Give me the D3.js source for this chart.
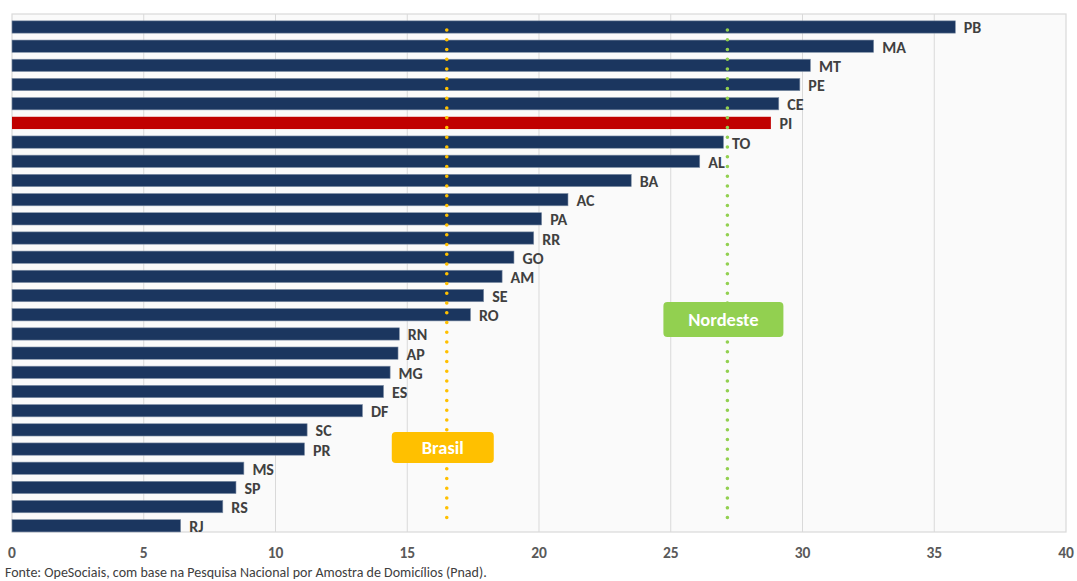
<!DOCTYPE html>
<html><head><meta charset="utf-8">
<script src="https://cdn.jsdelivr.net/npm/d3@7"></script>
<style>body{margin:0;background:#fff}svg{display:block}</style>
</head><body>
<svg id="c" width="1077" height="581"></svg>
<script>
const states = ["PB","MA","MT","PE","CE","PI","TO","AL","BA","AC","PA","RR","GO","AM","SE","RO","RN","AP","MG","ES","DF","SC","PR","MS","SP","RS","RJ"];
const values = [35.8,32.7,30.3,29.9,29.1,28.8,27.0,26.1,23.5,21.1,20.1,19.8,19.05,18.6,17.9,17.4,14.7,14.65,14.35,14.1,13.3,11.2,11.1,8.8,8.5,8.0,6.4];
const highlight = "PI";
const xTicks = [0,5,10,15,20,25,30,35,40];
const refNames = ["Brasil","Nordeste"];
const refValues = [16.5,27.15];
const refColors = ["#FFC000","#92D050"];
const source = "Fonte: OpeSociais, com base na Pesquisa Nacional por Amostra de Domicílios (Pnad).";

const svg = d3.select("#c");
const L=12, R=1066, T=14, B=532;
const x = d3.scaleLinear().domain([0,40]).range([L,R]);
const y = d3.scaleBand().domain(states).range([17.4,535.4]).paddingInner(0.36).paddingOuter(0.18);

svg.append("rect").attr("x",L).attr("y",T).attr("width",R-L).attr("height",B-T)
  .attr("fill","#fafafa").attr("stroke","#d9d9d9").attr("stroke-width",1.2);

svg.append("g").selectAll("line").data(xTicks.slice(1,-1)).join("line")
  .attr("x1",d=>x(d)).attr("x2",d=>x(d)).attr("y1",T).attr("y2",B)
  .attr("stroke","#d9d9d9").attr("stroke-width",1);

const font = "Carlito, Lato, 'Open Sans', sans-serif";

svg.append("g").selectAll("rect").data(states).join("rect")
  .attr("x",x(0)).attr("y",d=>y(d)).attr("height",y.bandwidth())
  .attr("width",(d,i)=>x(values[i])-x(0))
  .attr("fill",d=>d===highlight?"#C00000":"#1B365F")
  .attr("stroke",d=>d===highlight?"none":"#7f8fa6").attr("stroke-width",0.6);

svg.append("g").selectAll("text").data(states).join("text")
  .attr("x",(d,i)=>x(values[i])+8.5).attr("y",d=>y(d)+y.bandwidth()/2+6.5)
  .attr("font-family",font).attr("font-weight","bold").attr("font-size",16)
  .attr("fill","#404040").text(d=>d);

// reference lines
refValues.forEach((v,i)=>{
  svg.append("line").attr("x1",x(v)).attr("x2",x(v)).attr("y1",30).attr("y2",526)
    .attr("stroke",refColors[i]).attr("stroke-width",3.6).attr("stroke-linecap","round")
    .attr("stroke-dasharray","0 9.75");
});
const boxes = [{w:102,h:31,cy:447.5},{w:120,h:35,cy:319.5}];
refValues.forEach((v,i)=>{
  const b=boxes[i], cx=x(v)-4;
  svg.append("rect").attr("x",cx-b.w/2).attr("y",b.cy-b.h/2).attr("width",b.w).attr("height",b.h)
    .attr("rx",4).attr("fill",refColors[i]);
  svg.append("text").attr("x",cx).attr("y",b.cy+6.5).attr("text-anchor","middle")
    .attr("font-family",font).attr("font-weight","bold").attr("font-size",18.5)
    .attr("fill","#fff").text(refNames[i]);
});

// x axis labels
svg.append("g").selectAll("text").data(xTicks).join("text")
  .attr("x",d=>x(d)).attr("y",558).attr("text-anchor","middle")
  .attr("font-family",font).attr("font-weight","bold").attr("font-size",15.5)
  .attr("fill","#595959").text(d=>d);

svg.append("text").attr("x",5).attr("y",577).attr("font-family",font)
  .attr("font-size",14).attr("fill","#404040").text(source);
</script>
</body></html>
